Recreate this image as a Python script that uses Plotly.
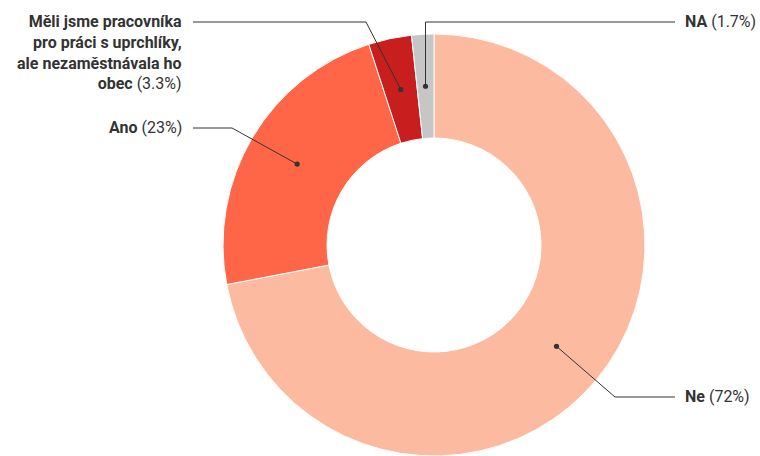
import math
import textwrap
import plotly.graph_objects as go

# ---- data ----
labels = ["Ne", "Ano", "Měli jsme pracovníka pro práci s uprchlíky, ale nezaměstnávala ho obec", "NA"]
values = [72, 23, 3.3, 1.7]
colors = ["#FCBBA1", "#FF6647", "#C81E1E", "#C6C6C6"]

# ---- layout constants (pixels) ----
W, H = 760, 456
CX, CY, R = 434, 245, 211
HOLE = 0.507
TXT = "#333333"
FS = 16

# label placement per slice: side, elbow x (None = straight up from dot), elbow y, line end x, text x
label_pos = [
    dict(side="right", ex=615, ey=397, lx=675, tx=683),
    dict(side="left", ex=232, ey=128, lx=193, tx=184),
    dict(side="left", ex=366, ey=22, lx=193, tx=184),
    dict(side="right", ex=None, ey=22, lx=675, tx=683),
]

def px(x):
    return x / W

def py(y):
    return 1 - y / H

fig = go.Figure(go.Pie(
    labels=labels, values=values, sort=False, direction="clockwise", rotation=0,
    hole=HOLE, textinfo="none", hoverinfo="label+percent",
    marker=dict(colors=colors, line=dict(color="white", width=1)),
    domain=dict(x=[(CX - R) / W, (CX + R) / W], y=[0, (H - (CY - R)) / H]),
))

shapes, annotations = [], []
total = sum(values)
cum = 0.0
rmid = R * (1 + HOLE) / 2
for lab, v, lp in zip(labels, values, label_pos):
    mid = (cum + v / 2) / total
    cum += v
    ang = 2 * math.pi * mid
    dx = CX + rmid * math.sin(ang)
    dy = CY - rmid * math.cos(ang)
    ex = dx if lp["ex"] is None else lp["ex"]
    ey = lp["ey"]
    path = f"M {px(dx)},{py(dy)} L {px(ex)},{py(ey)} L {px(lp['lx'])},{py(ey)}"
    shapes.append(dict(type="path", xref="paper", yref="paper", path=path,
                       line=dict(color=TXT, width=1)))
    rr = 2.6
    shapes.append(dict(type="circle", xref="paper", yref="paper",
                       x0=px(dx - rr), x1=px(dx + rr), y0=py(dy + rr), y1=py(dy - rr),
                       fillcolor=TXT, line=dict(width=0)))
    lines = textwrap.wrap(lab, 22)
    pct = f"{v:g}%"
    txt = "<br>".join(f"<b>{l}</b>" for l in lines) + f" ({pct})"
    annotations.append(dict(
        x=px(lp["tx"]), y=py(ey - 12), xref="paper", yref="paper",
        xanchor="left" if lp["side"] == "right" else "right", yanchor="top",
        align="left" if lp["side"] == "right" else "right",
        text=txt, showarrow=False, font=dict(family="Roboto", size=FS, color=TXT),
    ))

fig.update_layout(
    width=W, height=H, margin=dict(l=0, r=0, t=0, b=0),
    paper_bgcolor="white", plot_bgcolor="white", showlegend=False,
    shapes=shapes, annotations=annotations,
    font=dict(family="Roboto", color=TXT),
)

fig.write_html("out.html", config={"displayModeBar": False},
               post_script="document.body.style.margin='0px';document.body.style.overflow='hidden';")
